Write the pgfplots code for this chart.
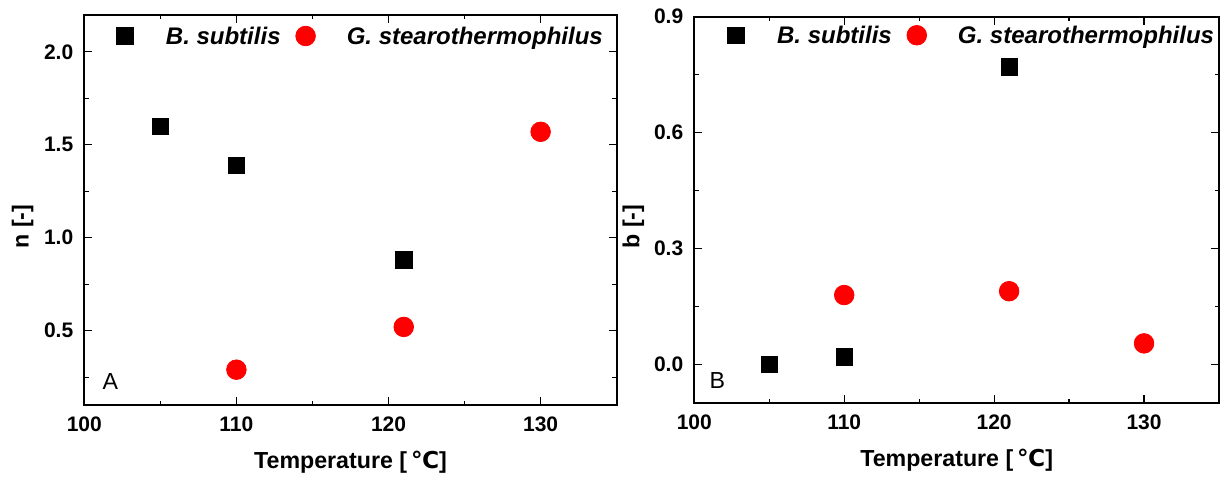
\documentclass[border=0pt]{standalone}
\usepackage{fontspec}
\setmainfont{Liberation Sans}
\newfontfamily\degfont{DejaVu Sans}
\usepackage{pgfplots}
\pgfplotsset{compat=1.18}

\definecolor{gsred}{RGB}{255,0,0}

\pgfplotsset{
  panel/.style={
    scale only axis,
    xmin=100, xmax=135,
    xtick={100,110,120,130},
    minor xtick={105,115,125},
    tick align=inside,
    major tick length=4pt,
    minor tick length=2.2pt,
    axis line style={line width=1pt},
    every tick/.style={black, line width=0.6pt},
    ticklabel style={font=\fontsize{10.5}{12}\selectfont\bfseries},
    /pgf/number format/assume math mode=true,
    yticklabel style={/pgf/number format/fixed,
      /pgf/number format/fixed zerofill,
      /pgf/number format/precision=1, xshift=-2pt},
    xticklabel style={yshift=-2.3pt},
    label style={font=\fontsize{11.6}{13}\selectfont\bfseries},
    xlabel={Temperature [\,{\degfont ℃}]},
    xlabel style={at={(axis description cs:0.5,-0.147)}, anchor=center},
    legend columns=2,
    legend cell align=left,
    legend style={draw=none, fill=none, inner sep=0pt, outer sep=0pt,
      column sep=0pt, anchor=west,
      nodes={inner sep=0pt, outer sep=0pt, text height=8.4pt, text depth=0pt,
        font=\fontsize{12}{14}\selectfont\bfseries\itshape}},
  },
  bsmark/.style={only marks, mark=square*, mark size=4.1pt, black,
    legend image code/.code={\path (-5pt,0pt) (20.4pt,0pt);
      \draw[##1] plot coordinates {(0pt,0pt)};}},
  gsmark/.style={only marks, mark=*, mark size=4.9pt, gsred,
    legend image code/.code={\path (-12.3pt,0pt) (20.4pt,0pt);
      \draw[##1] plot coordinates {(0pt,0pt)};}},
}

% exponent n of the fitted model
\pgfplotstableread{
T    n
105  1.60
110  1.39
121  0.88
}\bsubN
\pgfplotstableread{
T    n
110  0.29
121  0.52
130  1.57
}\gstearN
% parameter b of the fitted model
\pgfplotstableread{
T    b
105  0.00
110  0.02
121  0.77
}\bsubB
\pgfplotstableread{
T    b
110  0.18
121  0.19
130  0.055
}\gstearB

\begin{document}
\begin{tikzpicture}
\path[use as bounding box] (0pt,0pt) rectangle (611.5pt,240.5pt);

\begin{axis}[panel,
  at={(42.15pt,38pt)}, anchor=south west,
  width=266.2pt, height=195.15pt,
  ymin=0.1, ymax=2.2,
  ytick={0.5,1.0,1.5,2.0},
  minor ytick={0.25,0.75,1.25,1.75},
  ylabel={n [-]},
  ylabel style={at={(axis description cs:-0.116,0.457)}, anchor=center},
  legend style={at={(rel axis cs:0.0564,0.9454)}},
]
\addplot[bsmark] table[x=T, y=n] {\bsubN};
\addlegendentry{B. subtilis}
\addplot[gsmark] table[x=T, y=n] {\gstearN};
\addlegendentry{G. stearothermophilus}
\node[font=\fontsize{11.6}{13}\selectfont, anchor=center] at (rel axis cs:0.049,0.06) {A};
\end{axis}

\begin{axis}[panel,
  at={(347.15pt,38.85pt)}, anchor=south west,
  width=262.35pt, height=193.3pt,
  ymin=-0.1, ymax=0.9,
  ytick={0.0,0.3,0.6,0.9},
  minor ytick={0.15,0.45,0.75},
  ylabel={b [-]},
  ylabel style={at={(axis description cs:-0.116,0.457)}, anchor=center},
  legend style={at={(rel axis cs:0.0595,0.952)}},
]
\addplot[bsmark] table[x=T, y=b] {\bsubB};
\addlegendentry{B. subtilis}
\addplot[gsmark] table[x=T, y=b] {\gstearB};
\addlegendentry{G. stearothermophilus}
\node[font=\fontsize{11.6}{13}\selectfont, anchor=center] at (rel axis cs:0.044,0.058) {B};
\end{axis}
\end{tikzpicture}
\end{document}
